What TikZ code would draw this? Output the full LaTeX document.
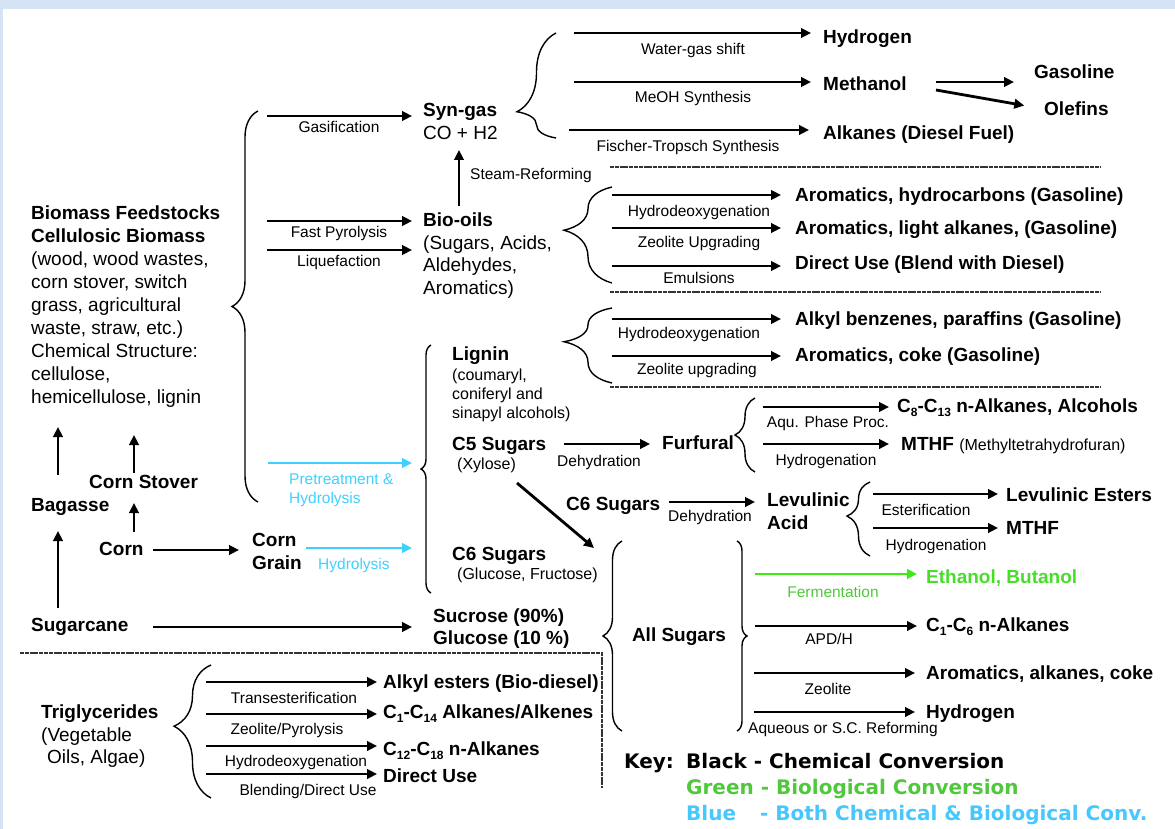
\documentclass[tikz,border=0pt]{standalone}
\usepackage{fontspec}
\setmainfont{Liberation Sans}
\newfontfamily\keyfont{DejaVu Sans}
\usetikzlibrary{arrows.meta,decorations.pathreplacing}
\definecolor{band}{RGB}{214,227,245}
\definecolor{cyanb}{RGB}{64,208,255}
\definecolor{garrow}{RGB}{60,235,20}
\definecolor{gtext}{RGB}{70,222,40}
\definecolor{keygreen}{RGB}{80,200,60}
\definecolor{keyblue}{RGB}{70,200,255}
\newcommand{\subs}[1]{\raisebox{-4pt}{\fontsize{12}{12}\selectfont #1}}
\begin{document}
\begin{tikzpicture}[x=1pt,y=-1pt,
 hd/.style={font=\fontsize{19}{22}\selectfont\bfseries, inner sep=0pt, text height=13.6pt, text depth=0pt, anchor=west},
 tx/.style={font=\fontsize{19}{22}\selectfont, inner sep=0pt, text height=13.6pt, text depth=0pt, anchor=west},
 sm/.style={font=\fontsize{16}{19}\selectfont, inner sep=0pt, text height=11.5pt, text depth=0pt, anchor=west},
 lb/.style={font=\fontsize{15.5}{18}\selectfont, inner sep=0pt, text height=11.1pt, text depth=0pt},
 kt/.style={font=\keyfont\fontsize{20}{24}\selectfont\bfseries, inner sep=0pt, text height=14.6pt, text depth=0pt, anchor=west},
 arr/.style={draw, line width=2.8pt, -{Triangle[length=10pt,width=9.5pt]}},
 brc/.style args={#1/#2}{draw, line width=1.4pt, decorate, decoration={brace, amplitude=#1, aspect=#2}},
 sep/.style={draw, line width=2.2pt, dash pattern=on 4pt off 0.8pt, black!80}
]
\useasboundingbox (0,0) rectangle (1175,829);
\fill[band] (0,0) rectangle (1175,9);
\fill[band] (0,0) rectangle (3,829);

% ---------- left column ----------
\node[hd] (b1) at (31,213) {Biomass Feedstocks};
\node[hd] (b2) at (31,236) {Cellulosic Biomass};
\node[tx] (b3) at (31,259) {(wood, wood wastes,};
\node[tx] (b4) at (31,282) {corn stover, switch};
\node[tx] (b5) at (31,305) {grass, agricultural};
\node[tx] (b6) at (31,328) {waste, straw, etc.)};
\node[tx] (b7) at (31,351) {Chemical Structure:};
\node[tx] (b8) at (31,374) {cellulose,};
\node[tx] (b9) at (31,397) {hemicellulose, lignin};

\node[hd] (bag) at (31,505) {Bagasse};
\node[hd] (cst) at (89,482) {Corn Stover};
\node[hd] (corn) at (99,549) {Corn};
\node[hd] (cg1) at (252,540) {Corn};
\node[hd] (cg2) at (252,563) {Grain};
\node[hd] (scane) at (31,625) {Sugarcane};

\coordinate (va1) at (58,608);
\coordinate (va2) at (58,475);
\coordinate (va3) at (134,532);
\coordinate (va4) at (134,473);
\draw[arr, shorten >=19pt] (va1) -- (va1 |- bag.south);
\draw[arr, shorten >=23pt] (va2) -- (va2 |- b9.south);
\draw[arr, shorten >=14pt] (va3) -- (va3 |- cst.south);
\draw[arr, shorten >=31pt] (va4) -- (va4 |- b9.south);
\coordinate (ha1) at (153,550);
\draw[arr, shorten >=13pt] (ha1) -- (ha1 -| cg1.west);

% big brace of biomass
\draw[brc=26pt/0.5] (258,502) -- (258,111);

% ---------- middle column ----------
\node[hd] (syn1) at (423,110) {Syn-gas};
\node[tx] (syn2) at (423,133) {CO + H2};
\node[hd] (bio1) at (423,220) {Bio-oils};
\node[tx] (bio2) at (423,243) {(Sugars, Acids,};
\node[tx] (bio3) at (423,265) {Aldehydes,};
\node[tx] (bio4) at (423,288) {Aromatics)};

\coordinate (gas) at (267,116);
\coordinate (fpy) at (267,221);
\coordinate (liq) at (267,250);
\draw[arr, shorten >=11pt] (gas) -- (gas -| syn1.west);
\node[lb] (lgas) at (339,127) {Gasification};
\draw[arr, shorten >=11pt] (fpy) -- (fpy -| bio1.west);
\node[lb] (lfpy) at (339,232) {Fast Pyrolysis};
\draw[arr, shorten >=11pt] (liq) -- (liq -| bio1.west);
\node[lb] (lliq) at (339,261) {Liquefaction};

\coordinate (sr) at (459,206);
\draw[arr, shorten >=10pt] (sr) -- (sr |- syn2.south);
\node[lb, anchor=west] (lsr) at (470,174) {Steam-Reforming};

\node[hd] (lig) at (452,354) {Lignin};
\node[sm] (lig2) at (452,375) {(coumaryl,};
\node[sm] (lig3) at (452,394) {coniferyl and};
\node[sm] (lig4) at (452,413) {sinapyl alcohols)};
\node[hd] (c5) at (452,444) {C5 Sugars};
\node[sm] (c5b) at (457,464) {(Xylose)};
\node[hd] (c6a) at (452,554) {C6 Sugars};
\node[sm] (c6b) at (457,574) {(Glucose, Fructose)};
\node[hd] (suc) at (433,616) {Sucrose (90\%)};
\node[hd] (glu) at (433,638) {Glucose (10 \%)};

\draw[brc=10pt/0.5] (431,593) -- (431,345);

\coordinate (pre) at (268,463);
\draw[arr, cyanb, shorten >=40pt] (pre) -- (pre -| c5.west);
\node[lb, anchor=west, text=cyanb] (lpre1) at (289,479) {Pretreatment \&};
\node[lb, anchor=west, text=cyanb] (lpre2) at (289,498) {Hydrolysis};
\coordinate (hyd) at (306,548);
\draw[arr, cyanb, shorten >=40pt] (hyd) -- (hyd -| c6a.west);
\node[lb, anchor=west, text=cyanb] (lhyd) at (318,564) {Hydrolysis};

\coordinate (sc) at (153,627);
\draw[arr, shorten >=21pt] (sc) -- (sc -| suc.west);

% ---------- syn-gas products ----------
\draw[brc=39pt/0.25] (556,138) -- (556,33);
\node[hd] (h2) at (823,37) {Hydrogen};
\node[hd] (meoh) at (823,84) {Methanol};
\node[hd] (alk) at (823,133) {Alkanes (Diesel Fuel)};
\node[hd] (gsl) at (1034,72) {Gasoline};
\node[hd] (olf) at (1044,109) {Olefins};
\coordinate (wg) at (574,33);
\coordinate (ms) at (574,82);
\coordinate (ft) at (569,130);
\draw[arr, shorten >=12pt] (wg) -- (wg -| h2.west);
\node[lb] (lwg) at (693,49) {Water-gas shift};
\draw[arr, shorten >=12pt] (ms) -- (ms -| meoh.west);
\node[lb] (lms) at (693,97) {MeOH Synthesis};
\draw[arr, shorten >=14pt] (ft) -- (ft -| alk.west);
\node[lb] (lft) at (688,146) {Fischer-Tropsch Synthesis};
\coordinate (mg) at (936,82);
\coordinate (mo) at (936,90);
\draw[arr, shorten >=20pt] (mg) -- (mg -| gsl.west);
\draw[arr, shorten >=20pt] (mo) -- (olf.west);

\draw[sep] (610,167) -- (1100,167);

% ---------- bio-oil products ----------
\draw[brc=48pt/0.55] (612,283) -- (612,187);
\node[hd] (p1) at (795,195) {Aromatics, hydrocarbons (Gasoline)};
\node[hd] (p2) at (795,228) {Aromatics, light alkanes, (Gasoline)};
\node[hd] (p3) at (795,263) {Direct Use (Blend with Diesel)};
\coordinate (o1) at (612,195);
\coordinate (o2) at (612,228);
\coordinate (o3) at (612,266);
\draw[arr, shorten >=14pt] (o1) -- (o1 -| p1.west);
\node[lb] (lo1) at (699,211) {Hydrodeoxygenation};
\draw[arr, shorten >=14pt] (o2) -- (o2 -| p2.west);
\node[lb] (lo2) at (699,242) {Zeolite Upgrading};
\draw[arr, shorten >=14pt] (o3) -- (o3 -| p3.west);
\node[lb] (lo3) at (699,278) {Emulsions};

\draw[sep] (610,292) -- (1100,292);

% ---------- lignin products ----------
\draw[brc=48pt/0.55] (612,383) -- (612,308);
\node[hd] (q1) at (795,319) {Alkyl benzenes, paraffins (Gasoline)};
\node[hd] (q2) at (795,355) {Aromatics, coke (Gasoline)};
\coordinate (l1) at (612,319);
\coordinate (l2) at (612,356);
\draw[arr, shorten >=14pt] (l1) -- (l1 -| q1.west);
\node[lb] (ll1) at (689,333) {Hydrodeoxygenation};
\draw[arr, shorten >=14pt] (l2) -- (l2 -| q2.west);
\node[lb] (ll2) at (697,369) {Zeolite upgrading};

\draw[sep] (610,387) -- (1100,387);

% ---------- C5 sugars / furfural ----------
\node[hd] (fur) at (662,443) {Furfural};
\coordinate (c5a) at (564,444);
\draw[arr, shorten >=12pt] (c5a) -- (c5a -| fur.west);
\node[lb] (ldh1) at (599,461) {Dehydration};
\draw[brc=20pt/0.5] (755,472) -- (755,398);
\node[hd] (c813) at (897,406) {C\subs{8}-C\subs{13} n-Alkanes, Alcohols};
\node[hd] (mthf1) at (901,444) {MTHF {\fontsize{16}{19}\selectfont\mdseries (Methyltetrahydrofuran)}};
\coordinate (f1) at (763,407);
\coordinate (f2) at (763,444);
\draw[arr, shorten >=8pt] (f1) -- (f1 -| c813.west);
\node[lb] (lf1) at (828,422) {Aqu. Phase Proc.};
\draw[arr, shorten >=12pt] (f2) -- (f2 -| mthf1.west);
\node[lb] (lf2) at (826,460) {Hydrogenation};

% ---------- C6 sugars / levulinic ----------
\node[hd] (c6m) at (566,504) {C6 Sugars};
\node[hd] (lev1) at (767,500) {Levulinic};
\node[hd] (lev2) at (767,523) {Acid};
\coordinate (c6s) at (669,502);
\draw[arr, shorten >=12pt] (c6s) -- (c6s -| lev1.west);
\node[lb] (ldh2) at (710,516) {Dehydration};
\draw[brc=23pt/0.54] (870,556) -- (870,482);
\node[hd] (lest) at (1006,495) {Levulinic Esters};
\node[hd] (mthf2) at (1006,528) {MTHF};
\coordinate (e1) at (873,494);
\coordinate (e2) at (873,528);
\draw[arr, shorten >=8pt] (e1) -- (e1 -| lest.west);
\node[lb] (le1) at (926,510) {Esterification};
\draw[arr, shorten >=8pt] (e2) -- (e2 -| mthf2.west);
\node[lb] (le2) at (936,545) {Hydrogenation};

% diagonal C5 -> all sugars
\coordinate (d1) at (517,483);
\coordinate (d2) at (594,548);
\draw[arr] (d1) -- (d2);

% ---------- all sugars ----------
\node[hd, anchor=center] (alls) at (679,635) {All Sugars};
\draw[brc=19pt/0.5] (622,731) -- (622,541);
\draw[brc=10pt/0.5] (737,541) -- (737,731);
\node[hd, text=gtext] (eth) at (926,577) {Ethanol, Butanol};
\node[hd] (c16) at (926,625) {C\subs{1}-C\subs{6} n-Alkanes};
\node[hd] (aak) at (926,673) {Aromatics, alkanes, coke};
\node[hd] (h2b) at (926,712) {Hydrogen};
\coordinate (s1) at (755,574);
\coordinate (s2) at (755,626);
\coordinate (s3) at (754,673);
\coordinate (s4) at (754,712);
\draw[arr, garrow, shorten >=9pt] (s1) -- (s1 -| eth.west);
\node[lb, text=keygreen] (ls1) at (833,592) {Fermentation};
\draw[arr, shorten >=9pt] (s2) -- (s2 -| c16.west);
\node[lb] (ls2) at (829,639) {APD/H};
\draw[arr, shorten >=11pt] (s3) -- (s3 -| aak.west);
\node[lb] (ls3) at (828,689) {Zeolite};
\draw[arr, shorten >=11pt] (s4) -- (s4 -| h2b.west);
\node[lb, anchor=west] (ls4) at (748,728) {Aqueous or S.C. Reforming};

% ---------- triglycerides ----------
\draw[sep] (20,653) -- (602,653) -- (602,788);
\node[hd] (tg1) at (41,712) {Triglycerides};
\node[tx] (tg2) at (41,735) {(Vegetable};
\node[tx] (tg3) at (47,757) {Oils, Algae)};
\draw[brc=37pt/0.54] (211,798) -- (211,665);
\node[hd] (t1) at (383,682) {Alkyl esters (Bio-diesel)};
\node[hd] (t2) at (383,712) {C\subs{1}-C\subs{14} Alkanes/Alkenes};
\node[hd] (t3) at (383,749) {C\subs{12}-C\subs{18} n-Alkanes};
\node[hd] (t4) at (383,776) {Direct Use};
\coordinate (g1) at (206,682);
\coordinate (g2) at (206,714);
\coordinate (g3) at (206,746);
\coordinate (g4) at (206,774);
\draw[arr, shorten >=6pt] (g1) -- (g1 -| t1.west);
\node[lb] (lg1) at (294,698) {Transesterification};
\draw[arr, shorten >=6pt] (g2) -- (g2 -| t2.west);
\node[lb] (lg2) at (287,729) {Zeolite/Pyrolysis};
\draw[arr, shorten >=6pt] (g3) -- (g3 -| t3.west);
\node[lb] (lg3) at (296,761) {Hydrodeoxygenation};
\draw[arr, shorten >=6pt] (g4) -- (g4 -| t4.west);
\node[lb] (lg4) at (308,790) {Blending/Direct Use};

% ---------- key ----------
\node[kt] (k0) at (624,761) {Key:};
\node[kt] (k1) at (686,761) {Black - Chemical Conversion};
\node[kt, text=keygreen] (k2) at (686,787) {Green - Biological Conversion};
\node[kt, text=keyblue] (k3) at (686,813) {Blue\hspace{24pt}- Both Chemical \& Biological Conv.};
\end{tikzpicture}
\end{document}
